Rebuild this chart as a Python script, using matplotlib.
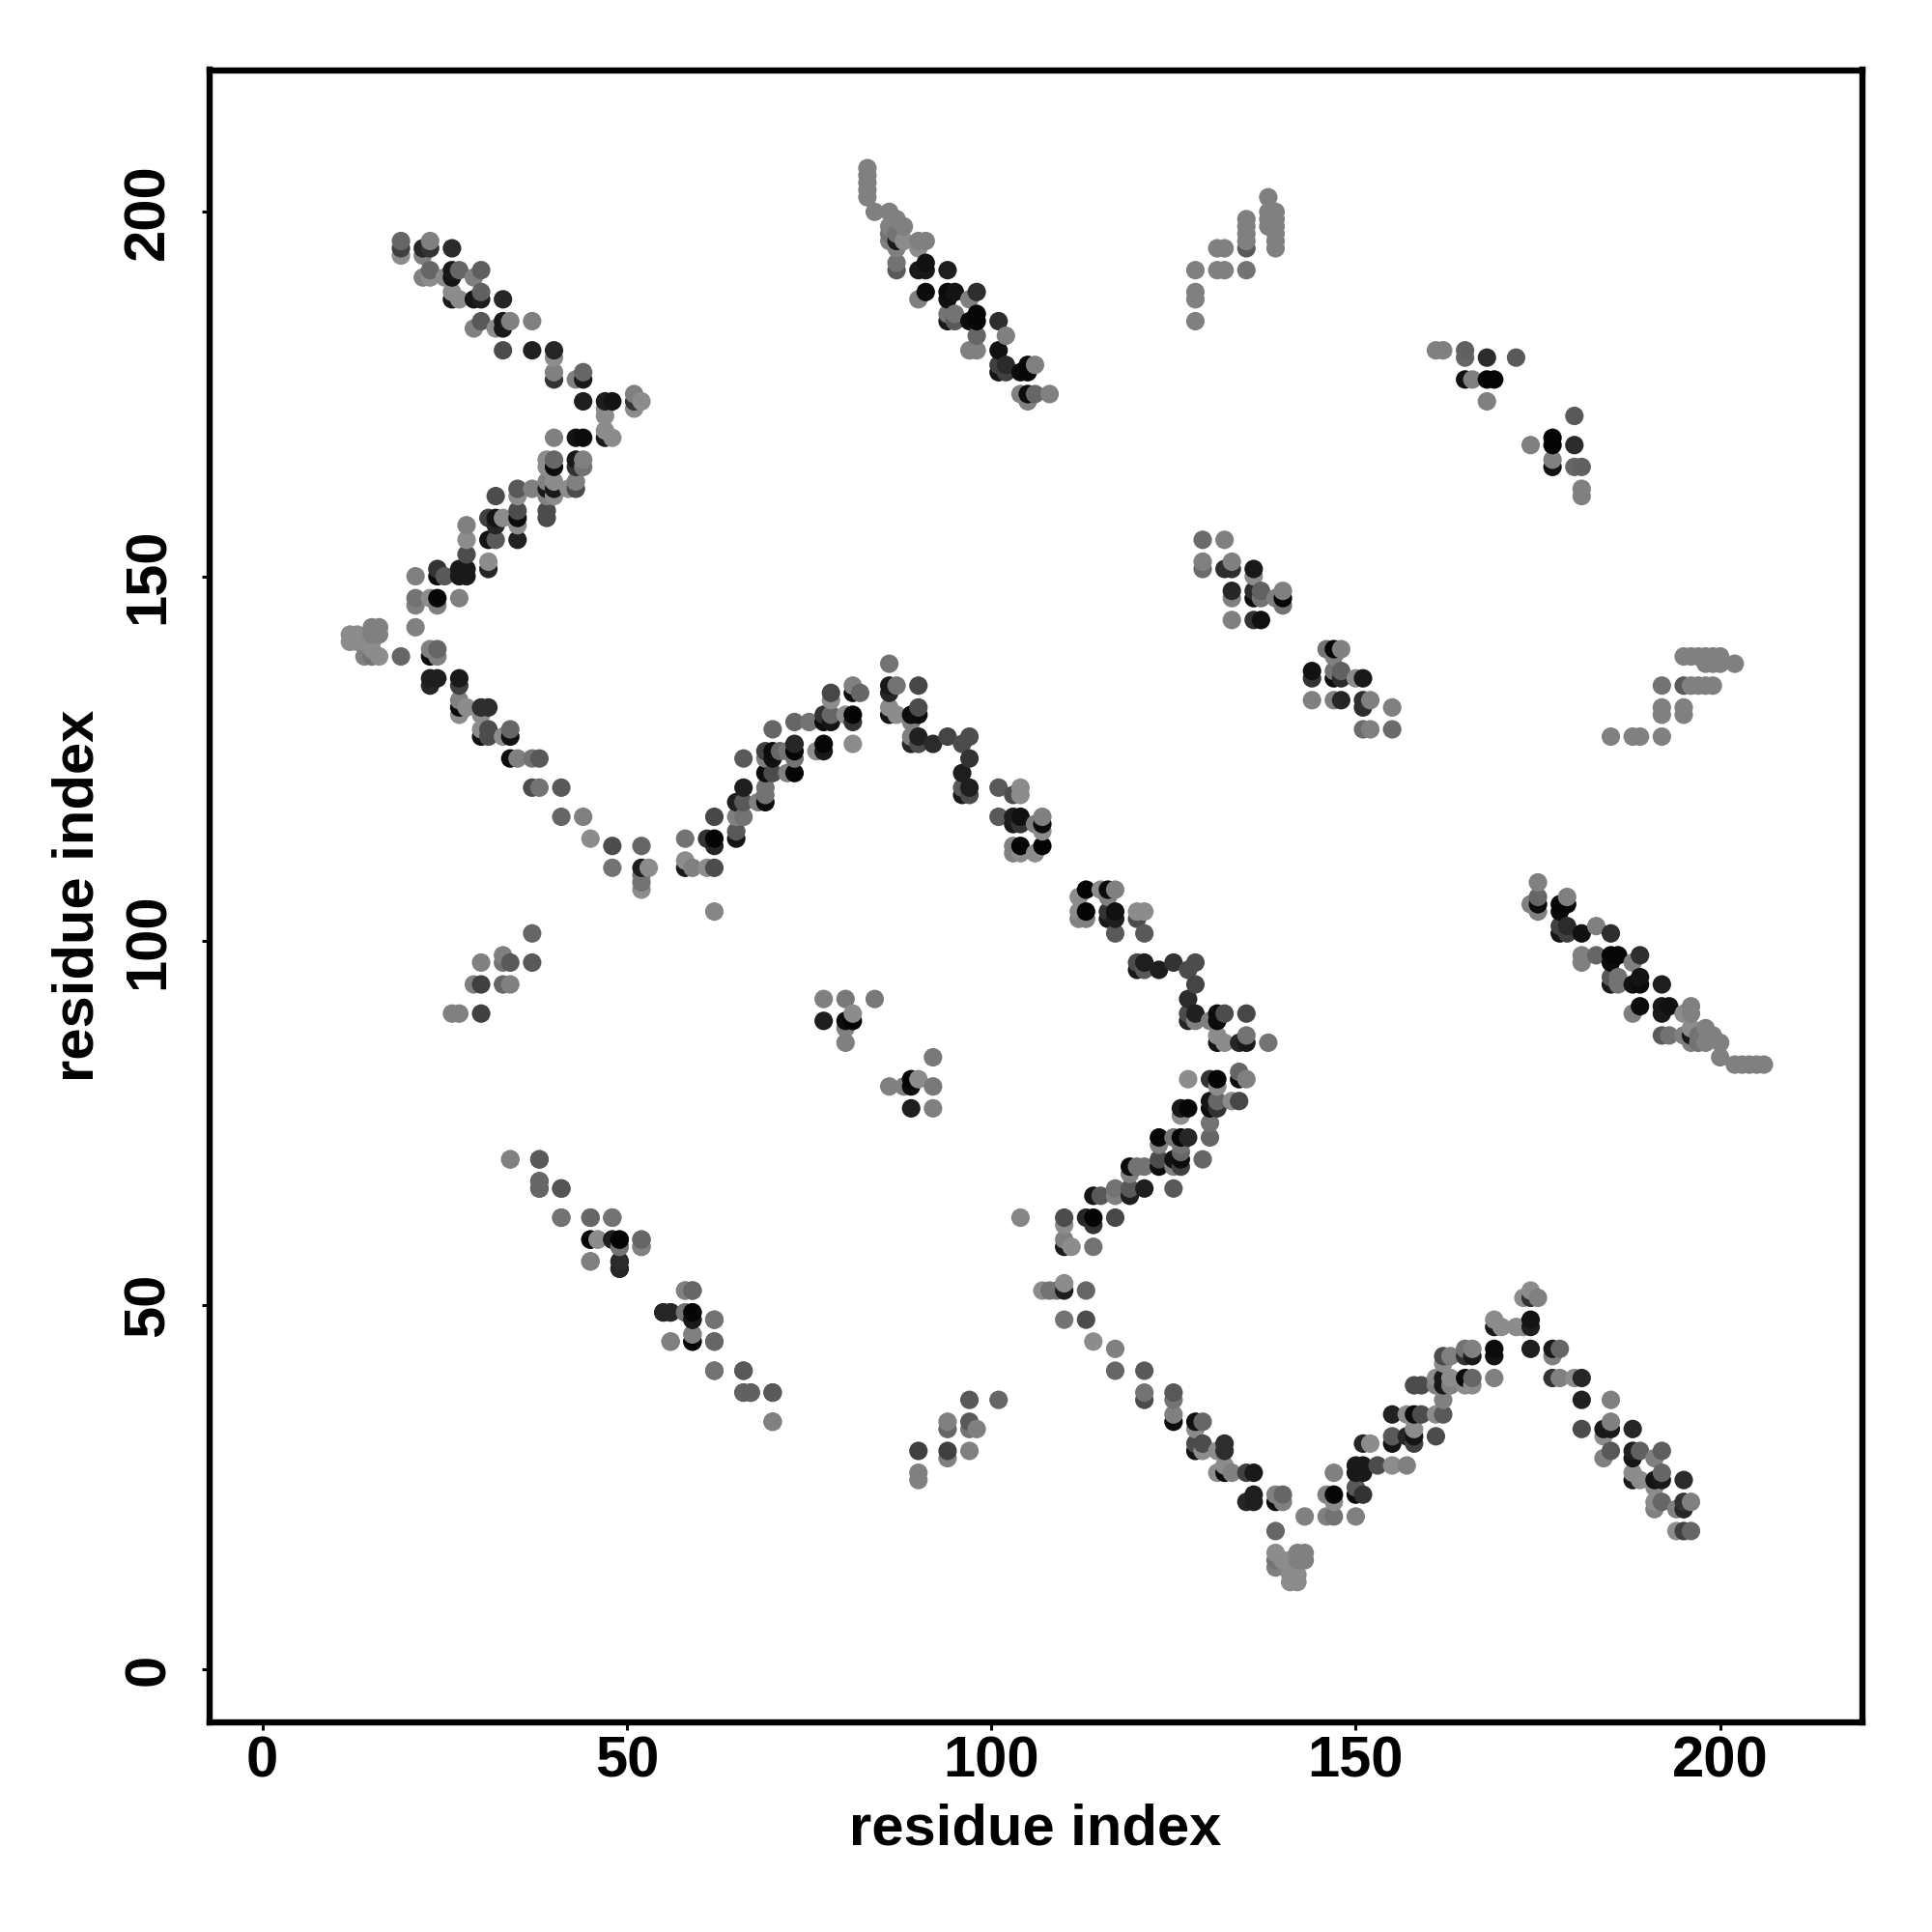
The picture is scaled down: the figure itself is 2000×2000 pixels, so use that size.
import numpy as np
import matplotlib
matplotlib.use("Agg")
import matplotlib.pyplot as plt
from matplotlib.transforms import ScaledTranslation

plt.rcParams['font.family'] = ['Liberation Sans', 'DejaVu Sans']

# Upper arm, residues 19-52 against 172-196
arm_a_i = [19,19,19,22,22,23,23,26, 22,23,23,25,26,26,27,29,30, 26,26,27,29,30,30,33,
           29,30,32,33,33,34,37, 33,37,40,40,40,40,43,44,44, 44,47,48,47,47,51,51,51,52]
arm_a_j = [196,195,194,195,194,196,195,195, 191,192,191,191,192,191,192,191,192, 189,188,188,188,188,189,188,
           184,185,184,185,184,185,185, 181,181,181,180,178,177,177,178,177, 174,174,174,173,172,175,174,173,174]
arm_a_g = [.40,.25,.55,.15,.50,.50,.20,.17, .50,.40,.55,.55,.10,.08,.40,.50,.37, .55,.10,.55,.08,.12,.38,.15,
           .50,.35,.55,.10,.10,.50,.50, .30,.13,.15,.55,.50,.20,.50,.40,.10, .12,.12,.08,.55,.55,.50,.20,.55,.55]

# Lower arm, residues 21-48 against 146-170
arm_b_i = [40,43,44,47,47,48, 39,39,40,40,43,43,44,44, 37,39,39,39,40,40,40,42,43,43,
           35,35,32,39,39,35,35,35, 31,32,32,33, 28,28,31,32,35, 28,31,31,24,24,25,27,27,28,28,21,
           21,21,23,24,24,27]
arm_b_j = [169,169,169,170,169,169, 166,165,166,165,166,165,166,165, 162,163,162,161,163,162,161,162,163,162,
           162,161,161,159,158,159,158,157, 158,158,157,158, 157,155,155,155,155, 153,152,151,151,150,150,151,150,151,150,150,
           147,146,147,147,146,147]
arm_b_g = [.50,.08,.05,.55,.10,.55, .55,.55,.40,.05,.10,.20,.50,.45, .50,.50,.10,.50,.55,.10,.55,.55,.50,.30,
           .35,.55,.30,.30,.30,.30,.05,.55, .25,.08,.15,.55, .50,.55,.08,.35,.13, .30,.55,.15,.20,.05,.35,.10,.10,.10,.10,.50,
           .45,.50,.55,.03,.50,.50]

# Descending arm, residues 12-53 against 107-143
arm_c_i = [21, 12,12,13,13,14,14,15,15,15,15,15,16,16,16,19, 23,24,23,24, 23,23,24,27,27,
           27,27,27,28,30,31,30, 30,30,31,31,33,34,34, 34,35,37,38, 37,38,41, 41,44, 45,48,52, 48,52,53,52,52,52]
arm_c_j = [143, 142,141,142,141,141,139,143,142,141,140,139,143,142,139,139, 140,140,139,139, 136,135,136,136,135,
           133,132,131,132,132,132,131, 129,128,129,128,128,129,128, 125,125,125,125, 121,121,121, 117,117, 114,113,113, 110,110,110,109,108,107]
arm_c_g = [.50, .55,.55,.55,.55,.55,.50,.50,.50,.55,.55,.45,.50,.50,.55,.40, .50,.40,.05,.50, .12,.15,.12,.10,.25,
           .50,.05,.55,.55,.18,.18,.55, .55,.07,.30,.30,.55,.40,.07, .05,.50,.45,.35, .30,.45,.35, .40,.50, .55,.30,.40, .45,.12,.55,.45,.45,.55]

# Arch, residues 58-107 against 110-138
arm_d_i = [86, 86,86,87,90, 86,86,87, 89,90,90,89, 89,89,90,90,92,94,96,97, 97,96,96,96,97,97,
           101,103,104,104, 101,103,103,104,104,106,107,107,107, 103,103,104,104,106,107,
           58,58,58,59,61,62, 61,62,62,62,65,65, 65,66,65,66,66, 68,69,69,69,
           66,69,69,69,70,70,70,71,72,73,73,73,72,73, 70,73,75, 76,77,77,
           77,77,78,78,78,78,80,81,81,81,81,81,82, 62]
arm_d_j = [138, 135,134,135,135, 132,131,131, 131,132,131,130, 128,127,128,127,127,128,127,128, 125,123,121,120,121,120,
           121,120,121,120, 117,117,116,117,116,116,117,116,115, 113,112,113,112,112,113,
           114,111,110,110,110,110, 114,114,113,117,115,114, 119,119,117,117,121, 119,119,120,121,
           125,126,125,123,126,125,123,126,126,127,126,125,123,123, 129,130,130, 126,127,126,
           131,130,131,130,134,133,131,131,130,127,135,134,134, 104]
arm_d_g = [.45, .10,.15,.45,.28, .55,.08,.55, .05,.30,.05,.50, .50,.15,.13,.30,.17,.27,.30,.30, .20,.12,.35,.10,.12,.30,
           .35,.30,.55,.55, .35,.12,.10,.07,.20,.50,.50,.05,.55, .50,.50,.02,.55,.55,.02,
           .45,.55,.10,.50,.55,.30, .20,.02,.15,.28,.35,.08, .12,.35,.50,.45,.12, .50,.05,.45,.45,
           .35,.25,.50,.05,.05,.07,.30,.40,.45,.15,.02,.45,.50,.02, .40,.40,.45, .55,.03,.10,
           .20,.05,.40,.08,.28,.55,.55,.02,.20,.55,.50,.05,.40, .52]

# Far arm, residues 83-108 against 174-206
arm_e_i = [83,83,83,83,83,84, 86,87,88,86,86,86,87,87,88,87, 90,91,90, 87,87,90,91,91,94,
           91,90,94,94,95,98,97, 94,94,95,95,97,98,98,101, 98,102, 97,98,101,
           101,101,102,102,104,105,105,106, 104,105,105,106,108]
arm_e_j = [206,205,204,203,202,200, 200,199,198,198,197,196,197,196,196,195, 196,196,195, 193,192,192,193,192,192,
           189,188,189,188,189,189,188, 186,185,186,185,185,186,185,185, 183,183, 181,181,181,
           179,178,179,178,178,179,178,179, 175,175,174,175,175]
arm_e_g = [.50,.50,.50,.50,.50,.50, .50,.50,.50,.50,.45,.50,.45,.10,.55,.50, .50,.50,.55, .45,.35,.10,.07,.10,.12,
           .05,.50,.05,.07,.08,.18,.50, .45,.10,.45,.35,.05,.03,.03,.18, .40,.50, .50,.50,.07,
           .25,.08,.17,.25,.05,.03,.03,.50, .50,.05,.50,.40,.50]

# Pale strand, residues 128-139 against 185-202
arm_f_i = [138,138,138,138, 139,139,139,139,139,139, 135,135,135,135,135,135, 131,132,131,132,128, 128,128,128]
arm_f_j = [202,200,199,198, 200,199,198,197,196,195, 199,198,197,196,195,192, 195,195,192,192,192, 189,188,185]
arm_f_g = [.50,.50,.50,.50, .50,.50,.50,.50,.50,.50, .50,.50,.50,.50,.35,.45, .50,.50,.50,.50,.50, .50,.50,.50]

# Small strand, residues 26-37 against 90-101
arm_g_i = [37,33,33,34,37,30, 30,29,33,34, 26,27,30]
arm_g_j = [101,98,97,97,97,97, 94,94,94,94, 90,90,90]
arm_g_g = [.40,.50,.45,.35,.35,.50, .25,.50,.40,.50, .50,.50,.25]

# Strand, residues 34-70 against 34-70
arm_h_i = [34,38,38,38,41, 41,45,48, 45,46,48,49,49,52,52, 45,49,49,
           58,59, 55,56,58,59,59,62, 59,59,56,62, 62,66, 66,67,70, 70]
arm_h_j = [70,70,67,66,66, 62,62,62, 59,59,59,59,58,59,58, 56,56,55,
           52,52, 49,49,49,49,48,48, 46,45,45,45, 41,41, 38,38,38, 34]
arm_h_g = [.50,.35,.38,.38,.35, .45,.40,.45, .02,.50,.10,.02,.45,.40,.50, .50,.15,.15,
           .50,.40, .15,.17,.45,.02,.12,.45, .55,.02,.50,.40, .45,.33, .40,.40,.35, .50]

# Near-diagonal patches
patch_i = [77,80,84,77,80,81,80,81,80,
           129,132,129,129,132,133,133,136,136,133,133,136,136,137,137,139,140,140,140,133,136,137,
           161,162,165,165,168,172,165,166,168,169,168]
patch_j = [92,92,92,89,89,89,88,90,86,
           155,155,152,151,151,152,151,151,150,148,147,148,147,148,147,147,148,147,146,144,144,144,
           181,181,181,180,180,180,177,177,177,177,174]
patch_g = [.50,.47,.47,.12,.05,.02,.50,.55,.50,
           .42,.50,.50,.42,.18,.50,.18,.10,.55,.15,.50,.17,.05,.38,.45,.50,.50,.03,.45,.50,.20,.07,
           .50,.50,.38,.40,.17,.35,.07,.50,.02,.02,.50]

ticks = [0, 50, 100, 150, 200]
axis_label = "residue index"

upper_i = np.array(arm_a_i + arm_b_i + arm_c_i + arm_d_i + arm_e_i + arm_f_i + arm_g_i + arm_h_i + patch_i)
upper_j = np.array(arm_a_j + arm_b_j + arm_c_j + arm_d_j + arm_e_j + arm_f_j + arm_g_j + arm_h_j + patch_j)
upper_g = np.array(arm_a_g + arm_b_g + arm_c_g + arm_d_g + arm_e_g + arm_f_g + arm_g_g + arm_h_g + patch_g)

# The contact map is symmetric: each contact appears on both sides of the diagonal
xs = np.concatenate([upper_i, upper_j])
ys = np.concatenate([upper_j, upper_i])
gs = np.concatenate([upper_g, upper_g])
order = np.lexsort((ys, xs))
xs, ys, gs = xs[order], ys[order], gs[order]

W = 2000
fig = plt.figure(figsize=(20, 20), dpi=100, facecolor='white')
L, R, T, B = 216.5, 1927.5, 72.5, 1783.0
ax = fig.add_axes([L / W, 1 - B / W, (R - L) / W, (B - T) / W])
ax.scatter(xs, ys, c=gs, cmap='gray', vmin=0, vmax=1, s=190, linewidths=0, zorder=3)

ppu = 7.545
x0, y0 = 271.7, 1728.3
ax.set_xlim((L - x0) / ppu, (R - x0) / ppu)
ax.set_ylim((y0 - B) / ppu, (y0 - T) / ppu)

for s in ax.spines.values():
    s.set_linewidth(4.6)
    s.set_capstyle('projecting')

ax.set_xticks(ticks)
ax.set_yticks(ticks)
ax.tick_params(axis='x', length=6, width=2.2, labelsize=43, pad=3.5)
ax.tick_params(axis='y', length=6, width=2.2, labelsize=43, pad=19)
for t in ax.get_xticklabels():
    t.set_fontweight('bold')
for t in ax.get_yticklabels():
    t.set_fontweight('bold')
    t.set_rotation(90)
    t.set_verticalalignment('center')

fig.text(1072 / W, 1 - 1894 / W, axis_label, fontsize=43, fontweight='bold', ha='center', va='center')
fig.text(81 / W, 1 - 927 / W, axis_label, fontsize=43, fontweight='bold', ha='center', va='center', rotation=90)

fig.savefig('out.png', dpi=100, facecolor='white')
